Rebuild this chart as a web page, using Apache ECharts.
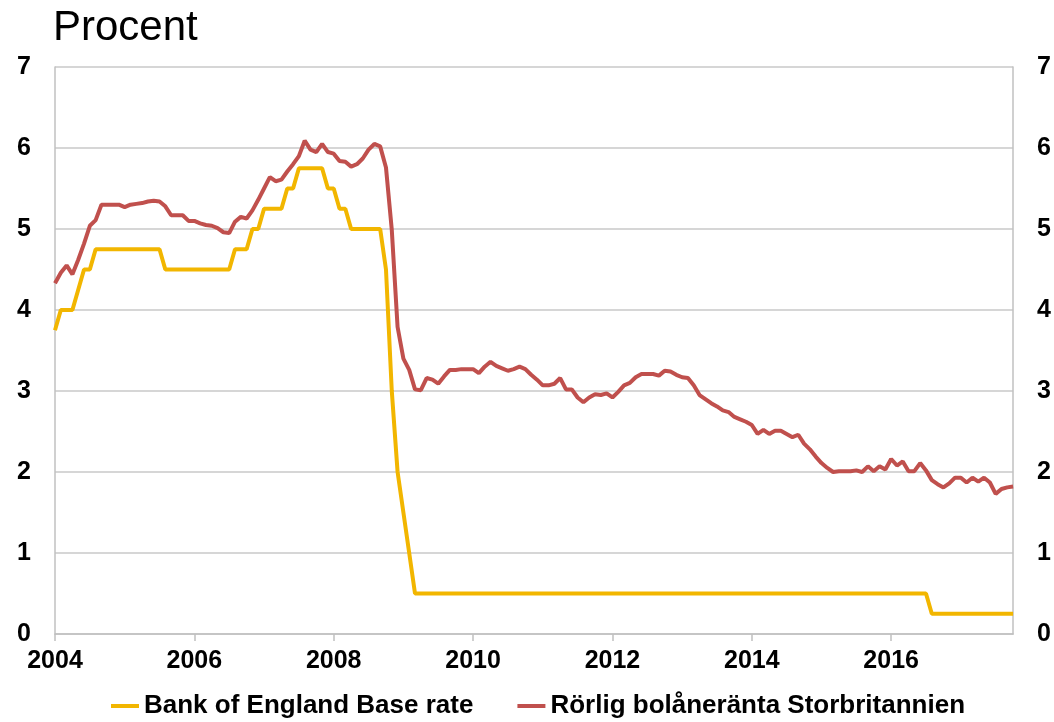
<!DOCTYPE html>
<html>
<head>
<meta charset="utf-8">
<script src="https://cdn.jsdelivr.net/npm/echarts@6/dist/echarts.min.js"></script>
<style>
html,body{margin:0;padding:0;background:#fff;}
#chart{width:1054px;height:722px;}
</style>
</head>
<body>
<div id="chart"></div>
<script>
// Monthly observations, January 2004 – October 2017
const startYear = 2004;
const monthCount = 166;
const yTicks = [0, 1, 2, 3, 4, 5, 6, 7];

const seriesNames = ['Bank of England Base rate', 'Rörlig bolåneränta Storbritannien'];

const bankRate = [
  // 2004
  3.75, 4.0, 4.0, 4.0, 4.25, 4.5, 4.5, 4.75, 4.75, 4.75, 4.75, 4.75,
  // 2005
  4.75, 4.75, 4.75, 4.75, 4.75, 4.75, 4.75, 4.5, 4.5, 4.5, 4.5, 4.5,
  // 2006
  4.5, 4.5, 4.5, 4.5, 4.5, 4.5, 4.5, 4.75, 4.75, 4.75, 5.0, 5.0,
  // 2007
  5.25, 5.25, 5.25, 5.25, 5.5, 5.5, 5.75, 5.75, 5.75, 5.75, 5.75, 5.5,
  // 2008
  5.5, 5.25, 5.25, 5.0, 5.0, 5.0, 5.0, 5.0, 5.0, 4.5, 3.0, 2.0,
  // 2009
  1.5, 1.0, 0.5, 0.5, 0.5, 0.5, 0.5, 0.5, 0.5, 0.5, 0.5, 0.5,
  // 2010
  0.5, 0.5, 0.5, 0.5, 0.5, 0.5, 0.5, 0.5, 0.5, 0.5, 0.5, 0.5,
  // 2011
  0.5, 0.5, 0.5, 0.5, 0.5, 0.5, 0.5, 0.5, 0.5, 0.5, 0.5, 0.5,
  // 2012
  0.5, 0.5, 0.5, 0.5, 0.5, 0.5, 0.5, 0.5, 0.5, 0.5, 0.5, 0.5,
  // 2013
  0.5, 0.5, 0.5, 0.5, 0.5, 0.5, 0.5, 0.5, 0.5, 0.5, 0.5, 0.5,
  // 2014
  0.5, 0.5, 0.5, 0.5, 0.5, 0.5, 0.5, 0.5, 0.5, 0.5, 0.5, 0.5,
  // 2015
  0.5, 0.5, 0.5, 0.5, 0.5, 0.5, 0.5, 0.5, 0.5, 0.5, 0.5, 0.5,
  // 2016
  0.5, 0.5, 0.5, 0.5, 0.5, 0.5, 0.5, 0.25, 0.25, 0.25, 0.25, 0.25,
  // 2017 (Jan–Oct)
  0.25, 0.25, 0.25, 0.25, 0.25, 0.25, 0.25, 0.25, 0.25, 0.25
];

const mortgageRate = [
  // 2004
  4.33, 4.46, 4.55, 4.44, 4.62, 4.82, 5.04, 5.11, 5.30, 5.30, 5.30, 5.30,
  // 2005
  5.27, 5.30, 5.31, 5.32, 5.34, 5.35, 5.34, 5.28, 5.17, 5.17, 5.17, 5.10,
  // 2006
  5.10, 5.07, 5.05, 5.04, 5.01, 4.96, 4.95, 5.09, 5.15, 5.13, 5.23, 5.36,
  // 2007
  5.50, 5.64, 5.59, 5.61, 5.71, 5.80, 5.90, 6.09, 5.98, 5.95, 6.05, 5.95,
  // 2008
  5.93, 5.84, 5.83, 5.77, 5.80, 5.87, 5.98, 6.05, 6.02, 5.76, 4.99, 3.79,
  // 2009
  3.40, 3.26, 3.02, 3.01, 3.16, 3.14, 3.09, 3.18, 3.26, 3.26, 3.27, 3.27,
  // 2010
  3.27, 3.22, 3.30, 3.36, 3.31, 3.28, 3.25, 3.27, 3.30, 3.27, 3.20, 3.14,
  // 2011
  3.07, 3.07, 3.09, 3.16, 3.02, 3.02, 2.92, 2.86, 2.92, 2.96, 2.95, 2.97,
  // 2012
  2.92, 2.99, 3.07, 3.10, 3.17, 3.21, 3.21, 3.21, 3.19, 3.25, 3.24, 3.20,
  // 2013
  3.17, 3.16, 3.07, 2.95, 2.90, 2.85, 2.81, 2.76, 2.74, 2.68, 2.65, 2.62,
  // 2014
  2.58, 2.47, 2.52, 2.47, 2.51, 2.51, 2.47, 2.43, 2.46, 2.35, 2.28, 2.19,
  // 2015
  2.11, 2.05, 2.00, 2.01, 2.01, 2.01, 2.02, 2.00, 2.07, 2.01, 2.07, 2.03,
  // 2016
  2.16, 2.08, 2.13, 2.01, 2.01, 2.11, 2.02, 1.90, 1.85, 1.81, 1.86, 1.93,
  // 2017 (Jan–Oct)
  1.93, 1.87, 1.93, 1.88, 1.93, 1.87, 1.73, 1.79, 1.81, 1.82
];

const months = [];
for (let i = 0; i < monthCount; i++) {
  const y = startYear + Math.floor(i / 12);
  const m = (i % 12) + 1;
  months.push(y + '-' + (m < 10 ? '0' + m : m));
}

const yellow = '#F2B600';
const red = '#C0504D';
const font = 'Liberation Sans, Arial, sans-serif';
const showYearTick = (idx) => idx % 24 === 0;

const yAxisBase = {
  type: 'value',
  min: 0,
  max: 7,
  interval: 1,
  axisLine: { show: true, lineStyle: { color: '#c0c0c0', width: 1.5 } },
  axisTick: { show: false },
  splitLine: { show: true, lineStyle: { color: '#c8c8c8', width: 1.5 } },
  axisLabel: {
    color: '#000', fontFamily: font, fontWeight: 'bold', fontSize: 25, margin: 24
  }
};

const chart = echarts.init(document.getElementById('chart'), null, { renderer: 'canvas' });
chart.setOption({
  animation: false,
  backgroundColor: '#fff',
  title: {
    text: 'Procent',
    left: 48,
    top: 2,
    textStyle: { fontFamily: font, fontWeight: 'normal', fontSize: 42, color: '#000' }
  },
  grid: { left: 55, right: 40, top: 67, bottom: 88, containLabel: false },
  legend: {
    bottom: -2,
    left: 106,
    itemGap: 44,
    itemWidth: 28,
    itemHeight: 4,
    icon: 'rect',
    textStyle: { fontFamily: font, fontWeight: 'bold', fontSize: 26, color: '#000' },
    data: seriesNames
  },
  xAxis: {
    type: 'category',
    data: months,
    boundaryGap: false,
    axisLine: { show: true, lineStyle: { color: '#c0c0c0', width: 1.5 } },
    axisTick: { show: true, interval: showYearTick, length: 7, lineStyle: { color: '#c0c0c0', width: 1.5 } },
    axisLabel: {
      interval: showYearTick,
      formatter: (v) => v.slice(0, 4),
      color: '#000', fontFamily: font, fontWeight: 'bold', fontSize: 25, margin: 15
    },
    splitLine: { show: false }
  },
  yAxis: [
    Object.assign({}, yAxisBase, { position: 'left' }),
    Object.assign({}, yAxisBase, { position: 'right', splitLine: { show: false } })
  ],
  series: [
    {
      name: seriesNames[0],
      type: 'line',
      data: bankRate,
      yAxisIndex: 0,
      showSymbol: false,
      symbol: 'none',
      lineStyle: { color: yellow, width: 4 },
      itemStyle: { color: yellow },
      z: 2
    },
    {
      name: seriesNames[1],
      type: 'line',
      data: mortgageRate,
      yAxisIndex: 0,
      showSymbol: false,
      symbol: 'none',
      lineStyle: { color: red, width: 4 },
      itemStyle: { color: red },
      z: 3
    }
  ]
});
</script>
</body>
</html>
